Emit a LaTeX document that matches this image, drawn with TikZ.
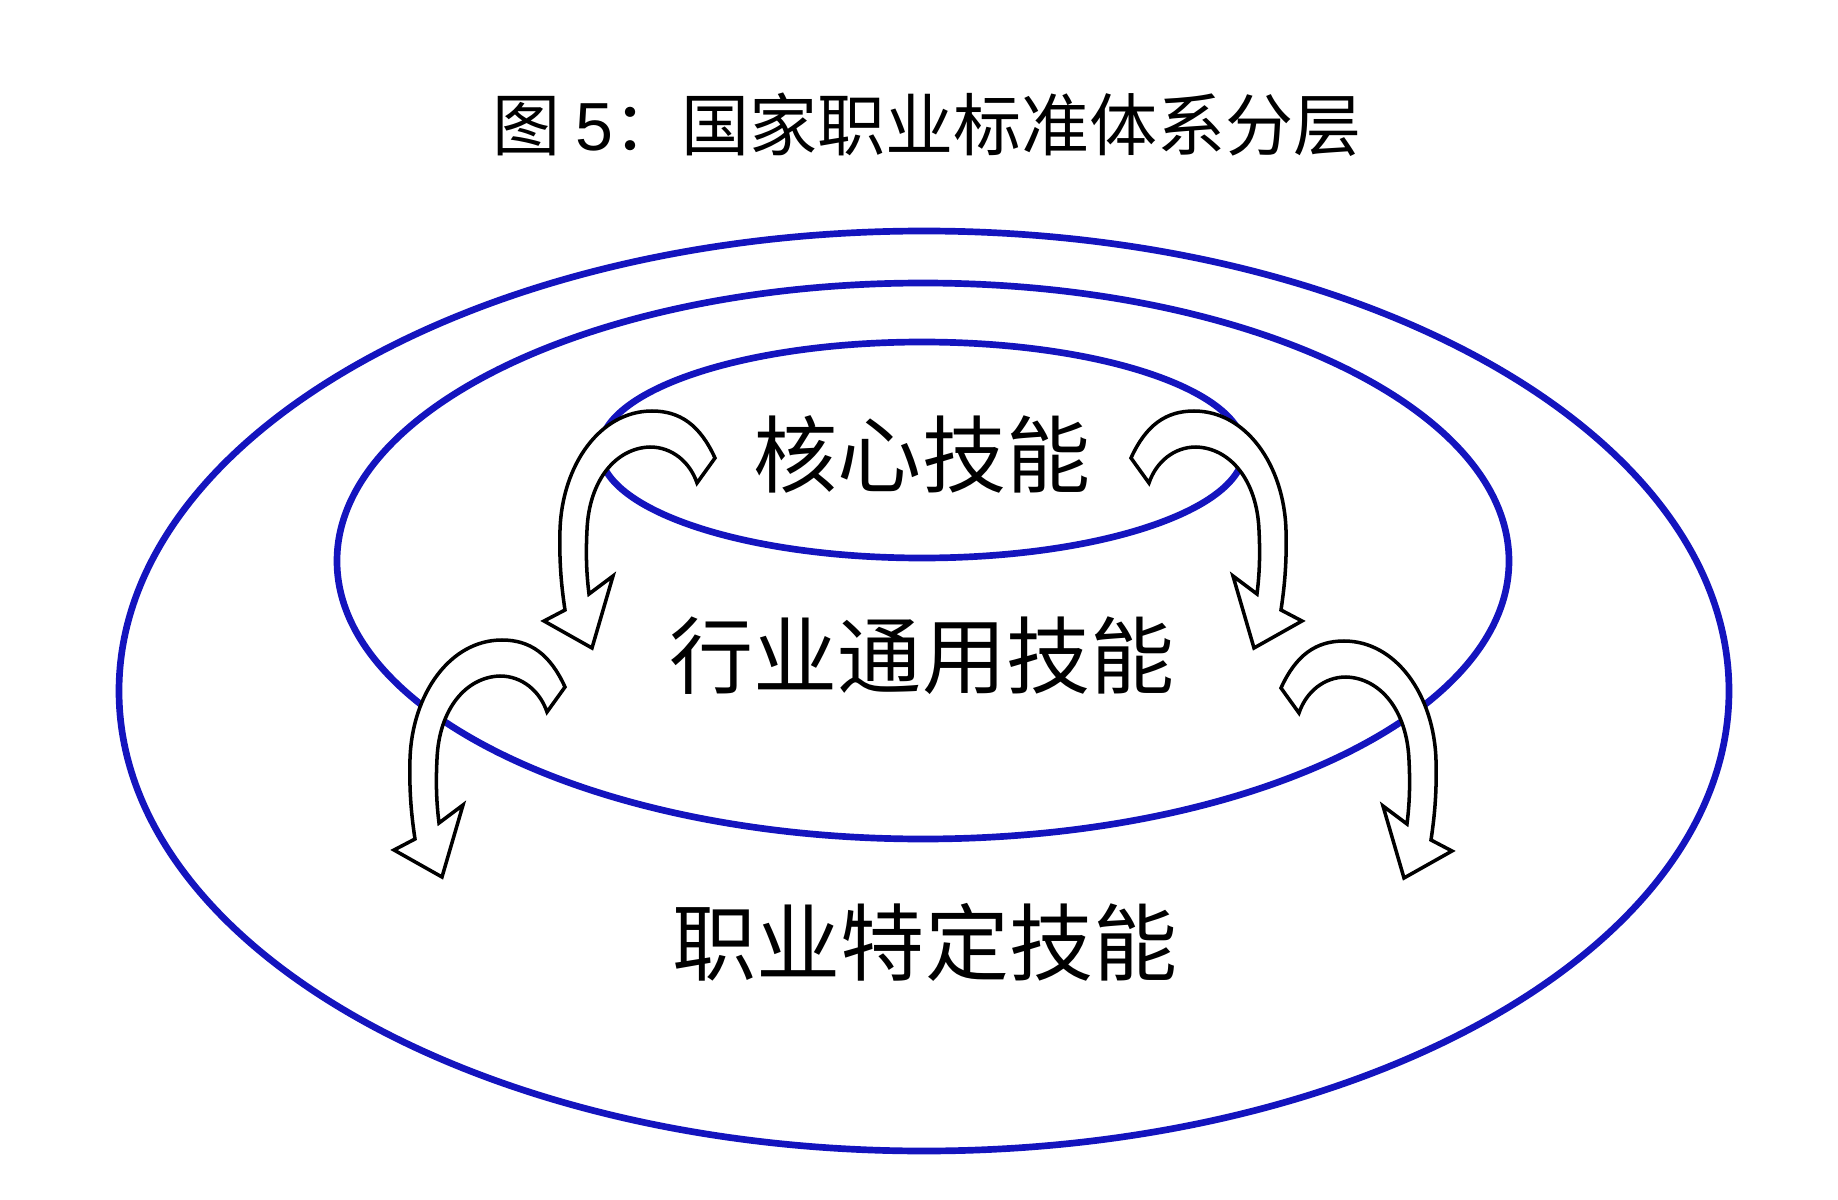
\documentclass[tikz,border=0pt]{standalone}
\usepackage{fontspec}
\newfontfamily\cjk{Noto Sans CJK SC}
\newfontfamily\lib{Liberation Sans}
\definecolor{ringblue}{RGB}{20,20,190}
\newcommand{\bentarrowpath}{%
 (715,458) .. controls (700,425) and (680,411) .. (652,411)
 .. controls (600,411) and (562,465) .. (560,530)
 .. controls (559,565) and (562,590) .. (565,610)
 -- (544,621) -- (592,648) -- (613,576) -- (589,594)
 .. controls (586,570) and (586,550) .. (587,530)
 .. controls (589,480) and (616,448) .. (650,447)
 .. controls (672,447) and (690,462) .. (697,483)
 -- cycle}
\begin{document}
\begin{tikzpicture}[x=0.01cm,y=-0.01cm,
  ring/.style={draw=ringblue,line width=1.9pt},
  bentarrow/.style={draw=black,fill=white,line width=1pt,line join=miter},
  label/.style={font=\cjk\fontsize{23.9}{28}\selectfont,inner sep=0pt},
  titlestyle/.style={font=\cjk\fontsize{19.35}{23}\selectfont,inner sep=0pt}]
\useasboundingbox (0,0) rectangle (1838,1200);
\fill[white] (0,0) rectangle (1838,1200);
% rings
\draw[ring] (924,691) ellipse [x radius=805, y radius=460];
\draw[ring] (923,561) ellipse [x radius=586, y radius=278];
\draw[ring] (922,450) ellipse [x radius=322, y radius=108];
% curved arrows
\draw[bentarrow] \bentarrowpath;
\begin{scope}[shift={(1846,0)},xscale=-1]
\draw[bentarrow] \bentarrowpath;
\end{scope}
\begin{scope}[shift={(-150,229)}]
\draw[bentarrow] \bentarrowpath;
\end{scope}
\begin{scope}[shift={(1996,230)},xscale=-1]
\draw[bentarrow] \bentarrowpath;
\end{scope}
% texts
\node[titlestyle] (title) at (927,125) {图 {\lib 5}：国家职业标准体系分层};
\node[label] (core) at (922,454) {核心技能};
\node[label] (industry) at (922,656) {行业通用技能};
\node[label] (occupation) at (925,942) {职业特定技能};
\end{tikzpicture}
\end{document}
